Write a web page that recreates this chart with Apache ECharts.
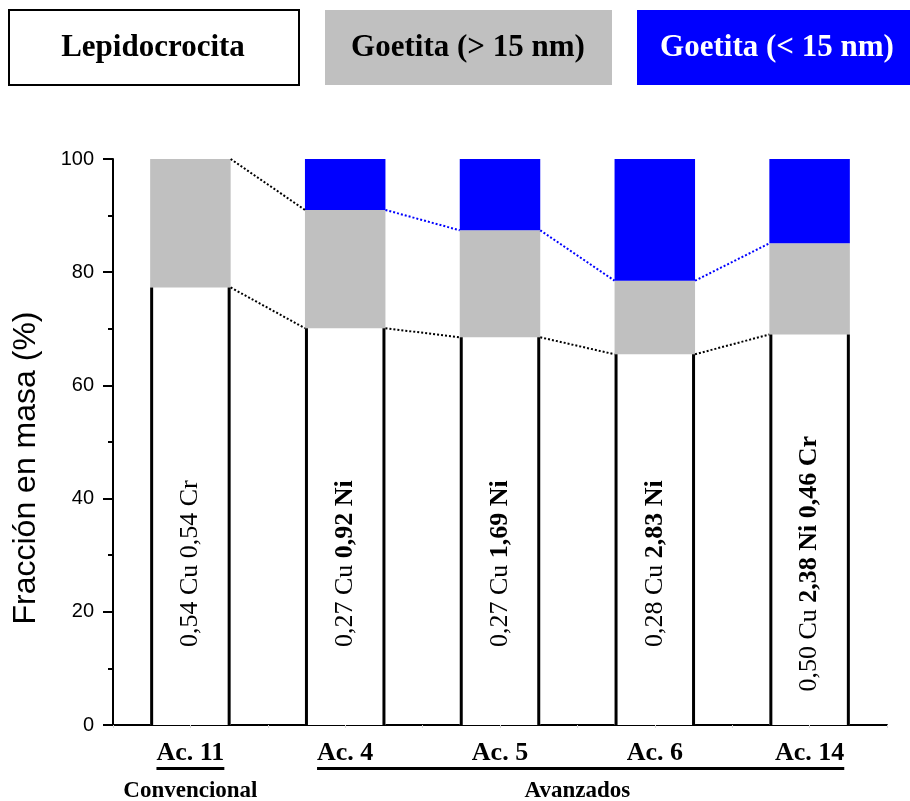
<!DOCTYPE html>
<html><head><meta charset="utf-8">
<script src="https://cdn.jsdelivr.net/npm/echarts@6/dist/echarts.min.js"></script>
<style>html,body{margin:0;padding:0;background:#fff}#c{width:910px;height:801px}</style>
</head><body><div id="c"></div>
<script>
// ---- data ----
const categories = ['Ac. 11', 'Ac. 4', 'Ac. 5', 'Ac. 6', 'Ac. 14'];
const lepidocrocita = [77.3, 70.1, 68.5, 65.5, 69.0];
const goetitaMayor15 = [22.7, 20.9, 18.9, 13.0, 16.1];
const goetitaMenor15 = [0, 9.0, 12.6, 21.5, 14.9];
const notaNormal = ['0,54 Cu 0,54 Cr', '0,27 Cu ', '0,27 Cu ', '0,28 Cu ', '0,50 Cu '];
const notaNegrita = ['', '0,92 Ni', '1,69 Ni', '2,83 Ni', '2,38 Ni 0,46 Cr'];
const grupos = [{ name: 'Convencional', from: 0, to: 0 }, { name: 'Avanzados', from: 1, to: 4 }];
const legendNames = ['Lepidocrocita', 'Goetita (> 15 nm)', 'Goetita (< 15 nm)'];
const yTitle = 'Fracción en masa (%)';

// ---- styles ----
const SERIF = '"Liberation Serif", "Times New Roman", serif';
const SANS = '"Liberation Sans", Arial, sans-serif';
const GREY = '#c0c0c0', BLUE = '#0000ff';
const BARFRAC = 0.52, HALF = BARFRAC / 2;

const chart = echarts.init(document.getElementById('c'), null, { renderer: 'canvas' });

// dotted connecting lines between bar edges
const lineSeries = [];
for (let i = 0; i < categories.length - 1; i++) {
  lineSeries.push({
    type: 'line', xAxisIndex: 1, yAxisIndex: 0, symbol: 'none', silent: true, z: 5,
    data: [[i + HALF, lepidocrocita[i]], [i + 1 - HALF, lepidocrocita[i + 1]]],
    lineStyle: { color: '#000', width: 2, type: [2, 2] }
  });
  const a = lepidocrocita[i] + goetitaMayor15[i];
  const b = lepidocrocita[i + 1] + goetitaMayor15[i + 1];
  lineSeries.push({
    type: 'line', xAxisIndex: 1, yAxisIndex: 0, symbol: 'none', silent: true, z: 5,
    data: [[i + HALF, a], [i + 1 - HALF, b]],
    lineStyle: { color: goetitaMenor15[i] > 0 ? BLUE : '#000', width: 2, type: [2, 2] }
  });
}

const option = {
  animation: false,
  backgroundColor: '#fff',
  grid: { left: 113, right: 23, top: 159, bottom: 76, containLabel: false },
  xAxis: [{
    type: 'category', data: categories, boundaryGap: true,
    axisLine: { onZero: false, lineStyle: { color: '#000', width: 2 } },
    axisTick: { show: false },
    axisLabel: { margin: 15, color: '#000', fontFamily: SERIF, fontWeight: 'bold', fontSize: 26 }
  }, {
    type: 'value', min: -0.5, max: 4.5, interval: 0.5, position: 'bottom',
    axisLine: { show: false, onZero: false }, axisLabel: { show: false }, splitLine: { show: false },
    axisTick: { show: true, length: 3, lineStyle: { color: '#d8d8d8', width: 1 } }
  }],
  yAxis: {
    type: 'value', min: 0, max: 100, interval: 20, position: 'left',
    axisLine: { show: true, onZero: false, lineStyle: { color: '#000', width: 2 } },
    axisTick: { show: true, length: 10, lineStyle: { color: '#000', width: 2 } },
    minorTick: { show: true, splitNumber: 2, length: 5, lineStyle: { color: '#000', width: 2 } },
    splitLine: { show: false },
    axisLabel: { margin: 19, color: '#000', fontFamily: SANS, fontSize: 20 }
  },
  series: [
    { name: legendNames[0], type: 'bar', stack: 'm', barWidth: (BARFRAC * 100) + '%', data: lepidocrocita,
      itemStyle: { color: '#fff' } },
    { name: legendNames[1], type: 'bar', stack: 'm', data: goetitaMayor15, itemStyle: { color: GREY } },
    { name: legendNames[2], type: 'bar', stack: 'm', data: goetitaMenor15, itemStyle: { color: BLUE } },
    {
      type: 'custom', xAxisIndex: 0, yAxisIndex: 0, z: 6, silent: true,
      data: lepidocrocita.map((v, i) => [i, v]),
      renderItem: function (params, api) {
        const i = api.value(0), v = api.value(1);
        const base = api.coord([i, 0]), top = api.coord([i, v]);
        const bw = api.size([1, 0])[0] * BARFRAC;
        const xl = base[0] - bw / 2 + 1.5, xr = base[0] + bw / 2 - 1.5;
        const mid = api.coord([i, 28.5]);
        let txt = '';
        if (notaNormal[i]) txt += '{r|' + notaNormal[i] + '}';
        if (notaNegrita[i]) txt += '{b|' + notaNegrita[i] + '}';
        return {
          type: 'group', children: [
            { type: 'line', shape: { x1: xl, y1: top[1], x2: xl, y2: base[1] }, style: { stroke: '#000', lineWidth: 3 } },
            { type: 'line', shape: { x1: xr, y1: top[1], x2: xr, y2: base[1] }, style: { stroke: '#000', lineWidth: 3 } },
            { type: 'text', x: mid[0], y: mid[1], rotation: Math.PI / 2,
              style: { text: txt, align: 'center', verticalAlign: 'middle',
                rich: {
                  r: { fontFamily: SERIF, fontSize: 26, fontWeight: 'normal', fill: '#000' },
                  b: { fontFamily: SERIF, fontSize: 26, fontWeight: 'bold', fill: '#000' }
                } } }
          ]
        };
      }
    }
  ].concat(lineSeries)
};
chart.setOption(option);

// ---- decorations: legend boxes, y title, underlines, group names ----
const ctx = document.createElement('canvas').getContext('2d');
ctx.font = 'bold 26px "Liberation Serif"';
const tw = t => ctx.measureText(t).width;
const y0 = chart.convertToPixel({ yAxisIndex: 0 }, 0);
const cx = i => chart.convertToPixel({ xAxisIndex: 0 }, categories[i]);

const graphics = [
  { type: 'rect', shape: { x: 9, y: 10, width: 290, height: 75 }, style: { fill: '#fff', stroke: '#000', lineWidth: 2 } },
  { type: 'text', x: 153, y: 48, style: { text: legendNames[0], font: 'bold 31px ' + SERIF, fill: '#000', align: 'center', verticalAlign: 'middle' } },
  { type: 'rect', shape: { x: 325, y: 10, width: 287, height: 75 }, style: { fill: GREY } },
  { type: 'text', x: 468, y: 48, style: { text: legendNames[1], font: 'bold 31px ' + SERIF, fill: '#000', align: 'center', verticalAlign: 'middle' } },
  { type: 'rect', shape: { x: 637, y: 10, width: 280, height: 75 }, style: { fill: BLUE } },
  { type: 'text', x: 777, y: 48, style: { text: legendNames[2], font: 'bold 31px ' + SERIF, fill: '#fff', align: 'center', verticalAlign: 'middle' } },
  { type: 'text', x: 26, y: 468, rotation: Math.PI / 2, style: { text: yTitle, font: '32px ' + SANS, fill: '#000', align: 'center', verticalAlign: 'middle' } }
];
grupos.forEach(g => {
  const x1 = cx(g.from) - tw(categories[g.from]) / 2;
  const x2 = cx(g.to) + tw(categories[g.to]) / 2;
  graphics.push({ type: 'rect', shape: { x: x1, y: y0 + 42, width: x2 - x1, height: 3 }, style: { fill: '#000' } });
  graphics.push({ type: 'text', x: (cx(g.from) + cx(g.to)) / 2, y: y0 + 66,
    style: { text: g.name, font: 'bold 23px ' + SERIF, fill: '#000', align: 'center', verticalAlign: 'middle' } });
});
chart.setOption({ graphic: graphics });
</script>
</body></html>
